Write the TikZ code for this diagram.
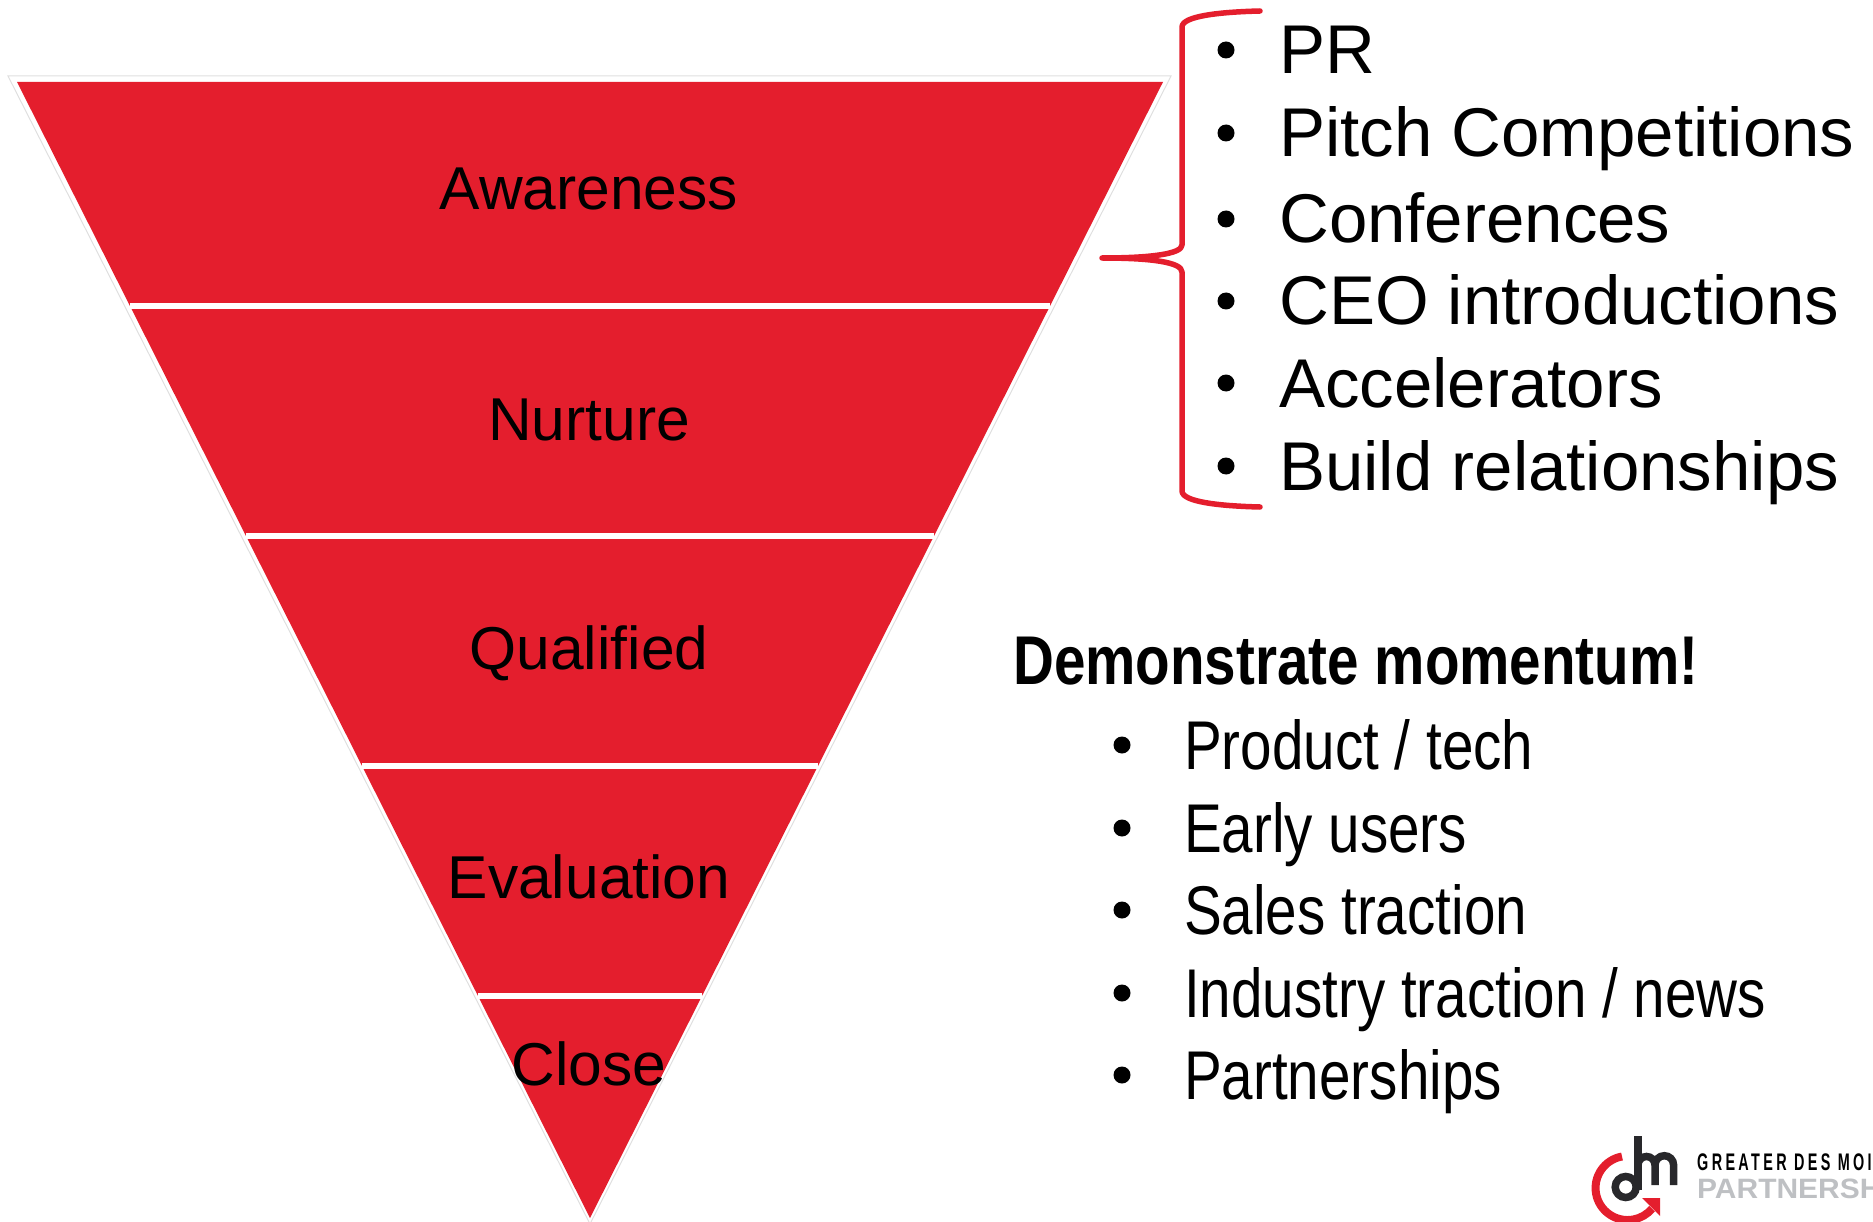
\documentclass[tikz,border=0pt]{standalone}
\usepackage{fontspec}
\setmainfont{Liberation Sans}
\newfontfamily\narrowfont[FakeStretch=0.82]{Liberation Sans}
\newfontfamily\logofont[FakeStretch=0.6,LetterSpace=14]{Liberation Sans}
\newfontfamily\logowidefont[FakeStretch=1.07]{Liberation Sans}
\definecolor{funnelRed}{RGB}{228,30,45}
\definecolor{logoDark}{RGB}{40,40,43}
\definecolor{logoGray}{RGB}{190,192,195}
\tikzset{
    stagelabel/.style={font=\fontsize{60.5}{60.5}\selectfont, anchor=base},
    listitem/.style={font=\fontsize{69}{69}\selectfont, anchor=base west, inner sep=0pt},
    narrowitem/.style={font=\narrowfont\fontsize{69}{69}\selectfont, anchor=base west, inner sep=0pt},
    dotmark/.style={circle, fill=black, inner sep=0pt, minimum size=17pt},
    bandline/.style={white, line width=6pt},
    logotext/.style={anchor=base west, inner sep=0pt}
}
\begin{document}
\begin{tikzpicture}[x=1pt, y=-1pt]
    \useasboundingbox (0,0) rectangle (1873,1222);

    % Funnel
    \draw[gray!25, line width=1pt] (8,76) -- (1171,76) -- (590,1224) -- cycle;
    \fill[funnelRed] (17,82) -- (1163,82) -- (590,1218) -- cycle;
    \foreach \y/\xl/\xr in {306/130/1050, 536/246/934, 766/362/818, 996/478/702}
        \draw[bandline] (\xl,\y) -- (\xr,\y);

    \node[stagelabel] (awareness) at (589,210) {Awareness};
    \node[stagelabel] (nurture) at (589,440) {Nurture};
    \node[stagelabel] (qualified) at (589,669) {Qualified};
    \node[stagelabel] (evaluation) at (589,898) {Evaluation};
    \node[stagelabel] (close) at (589,1085) {Close};

    % Brace
    \draw[funnelRed, line width=5.5pt, line cap=round, line join=round]
        (1260,11) .. controls (1220,12) and (1182,16) .. (1182,27)
        -- (1182,245) .. controls (1182,254) and (1150,258) .. (1102,258)
        .. controls (1150,258) and (1182,262) .. (1182,272)
        -- (1182,491) .. controls (1182,502) and (1220,506) .. (1260,507);

    % Top list
    \foreach \y/\name/\txt in {50/pr/PR, 133/pitch/Pitch Competitions, 219/conf/Conferences,
                               301/ceo/CEO introductions, 383/accel/Accelerators, 466/build/Build relationships} {
        \node[dotmark] (dot\name) at (1226,\y) {};
        \node[listitem] (\name) at (1279,\y+24) {\txt};
    }

    % Momentum list
    \node[narrowitem, font=\narrowfont\bfseries\fontsize{69}{69}\selectfont] (momentum) at (1013,684) {Demonstrate momentum!};
    \foreach \y/\name/\txt in {745/product/{Product / tech}, 828/early/Early users, 910/sales/Sales traction,
                               993/industry/{Industry traction / news}, 1075/partner/Partnerships} {
        \node[dotmark] (dot\name) at (1122,\y) {};
        \node[narrowitem] (\name) at (1184,\y+24) {\txt};
    }

    % Logo
    \draw[funnelRed, line width=8pt] (1622,1156.5) arc[start angle=-100, end angle=-320, radius=32];
    \fill[funnelRed] (1642,1198) -- (1660,1198) -- (1660,1216) -- cycle;
    \draw[logoDark, line width=7.5pt] (1625.7,1187) circle[radius=10.5];
    \draw[logoDark, line width=7.5pt] (1638,1136) -- (1638,1190);
    \draw[logoDark, line width=7.5pt] (1638,1165) arc[start angle=-180, end angle=0, radius=8.5]
        -- (1655,1185);
    \draw[logoDark, line width=7.5pt] (1655,1165) arc[start angle=-180, end angle=0, radius=9.3]
        -- (1673.6,1185);
    \node[logotext, font=\logofont\bfseries\fontsize{24}{24}\selectfont] (greater) at (1697,1170) {GREATER DES MOI};
    \node[logotext, font=\logowidefont\bfseries\fontsize{28}{28}\selectfont, text=logoGray] (partnership) at (1697,1198) {PARTNERSH};
\end{tikzpicture}
\end{document}
